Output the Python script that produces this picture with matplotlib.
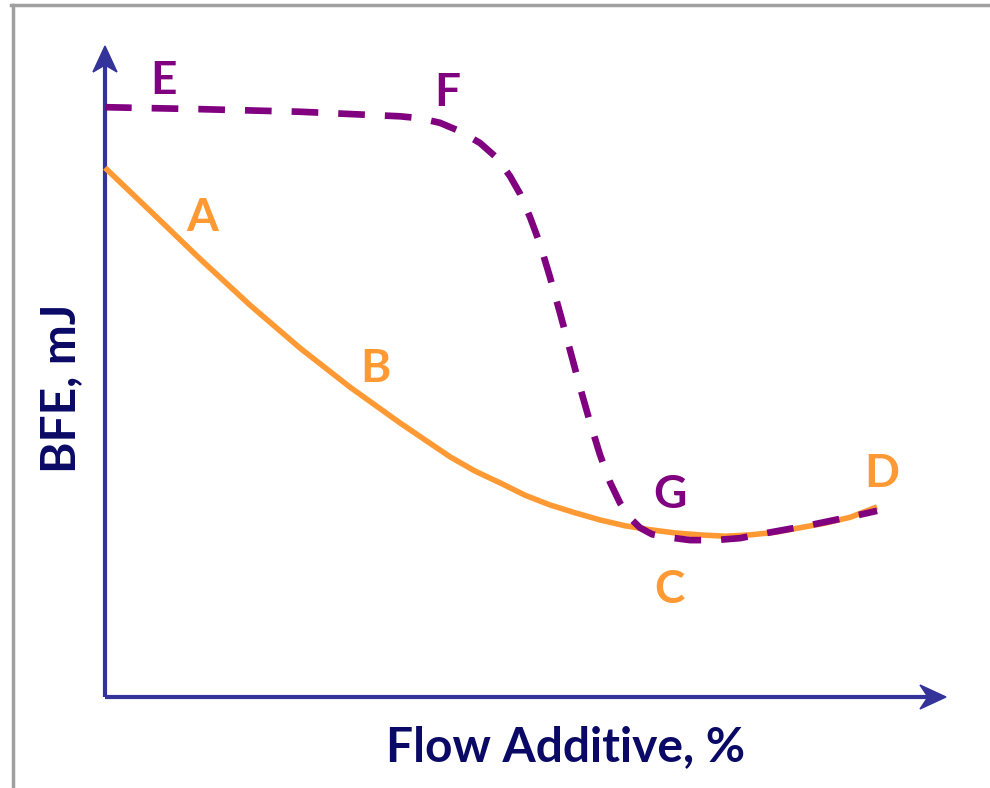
import matplotlib
matplotlib.use("Agg")
import matplotlib.pyplot as plt
from matplotlib.patches import Polygon
from matplotlib.lines import Line2D

plt.rcParams['font.family'] = ['Lato', 'DejaVu Sans']

# Flow additive (%) vs. BFE (mJ), arbitrary units 0-10 on both axes
additive_std = [0.000, 0.535, 1.130, 1.724, 2.319, 2.913, 3.508, 3.805, 4.102,
                4.400, 4.697, 4.994, 5.291, 5.589, 5.886, 6.183, 6.480, 6.778,
                7.075, 7.372, 7.669, 7.967, 8.264, 8.561, 8.859, 9.180]
bfe_std = [8.13, 7.47, 6.73, 6.02, 5.36, 4.76, 4.21, 3.95, 3.69,
           3.47, 3.29, 3.10, 2.95, 2.83, 2.72, 2.63, 2.57, 2.52,
           2.49, 2.47, 2.49, 2.53, 2.60, 2.67, 2.76, 2.92]

additive_alt = [0.000, 1.130, 2.319, 3.508, 3.746, 3.983, 4.221, 4.459, 4.661,
                4.816, 4.935, 5.054, 5.172, 5.291, 5.410, 5.529, 5.648, 5.767,
                5.886, 6.005, 6.124, 6.243, 6.361, 6.504, 6.659, 6.956, 7.253,
                7.551, 7.788, 8.086, 8.383, 8.680, 8.977, 9.180]
bfe_alt = [9.06, 9.03, 8.99, 8.92, 8.89, 8.82, 8.69, 8.51, 8.28,
           8.00, 7.73, 7.37, 6.96, 6.45, 5.90, 5.33, 4.76, 4.22,
           3.72, 3.30, 2.98, 2.75, 2.60, 2.50, 2.46, 2.41, 2.41,
           2.44, 2.50, 2.57, 2.64, 2.72, 2.80, 2.86]

# point labels: (text, x, baseline y)
std_labels = [('A', 1.15, 7.16), ('B', 3.21, 4.84), ('C', 6.71, 1.44), ('D', 9.24, 3.23)]
alt_labels = [('E', 0.69, 9.26), ('F', 4.07, 9.08), ('G', 6.72, 2.90)]

ORANGE = '#FF9933'
PURPLE = '#800080'
AXIS = '#333399'
NAVY = '#0a0a66'

W, H = 990, 788


def fx(px):
    return px / W


def fy(py):
    return 1 - py / H


fig = plt.figure(figsize=(W / 100, H / 100), dpi=100)
ax = fig.add_axes([fx(105), fy(697), (946 - 105) / W, (697 - 46) / H])
ax.set_xlim(0, 10)
ax.set_ylim(0, 10)
ax.axis('off')

# frame around the slide
fig.add_artist(Line2D([fx(12.5), fx(12.5)], [fy(4.5), 0], color='#a0a0a0', lw=2.5,
                      transform=fig.transFigure))
fig.add_artist(Line2D([fx(11), 1], [fy(4.5), fy(4.5)], color='#a0a0a0', lw=2.5,
                      transform=fig.transFigure))

# axis lines with notched arrow heads
ax.plot([0, 0], [0, 0.975], color=AXIS, lw=3, transform=ax.transAxes,
        clip_on=False, solid_capstyle='butt')
ax.plot([0, 0.99], [0, 0], color=AXIS, lw=3, transform=ax.transAxes,
        clip_on=False, solid_capstyle='butt')
fig.add_artist(Polygon([(fx(105), fy(46)), (fx(117), fy(72)), (fx(105), fy(65)),
                        (fx(93), fy(72))], closed=True, color=AXIS,
                       transform=fig.transFigure))
fig.add_artist(Polygon([(fx(946), fy(697)), (fx(920), fy(709)), (fx(928), fy(697)),
                        (fx(920), fy(685))], closed=True, color=AXIS,
                       transform=fig.transFigure))

ax.plot(additive_std, bfe_std, color=ORANGE, lw=4, clip_on=False,
        solid_capstyle='butt', solid_joinstyle='round')
ax.plot(additive_alt, bfe_alt, color=PURPLE, lw=4.8, clip_on=False,
        linestyle=(0, (4, 3)), dash_capstyle='butt', dash_joinstyle='round')

for txt, x, y in std_labels:
    ax.text(x, y, txt, color=ORANGE, fontsize=33, fontweight='bold',
            ha='center', va='baseline')
for txt, x, y in alt_labels:
    ax.text(x, y, txt, color=PURPLE, fontsize=33, fontweight='bold',
            ha='center', va='baseline')

fig.text(fx(566), fy(761), 'Flow Additive, %', color=NAVY, fontsize=34.5,
         fontweight='bold', ha='center', va='baseline')
fig.text(fx(75), fy(388), 'BFE, mJ', color=NAVY, fontsize=34.5, fontweight='bold',
         rotation=90, rotation_mode='anchor', ha='center', va='baseline')

fig.savefig('out.png', dpi=100, facecolor='white')
